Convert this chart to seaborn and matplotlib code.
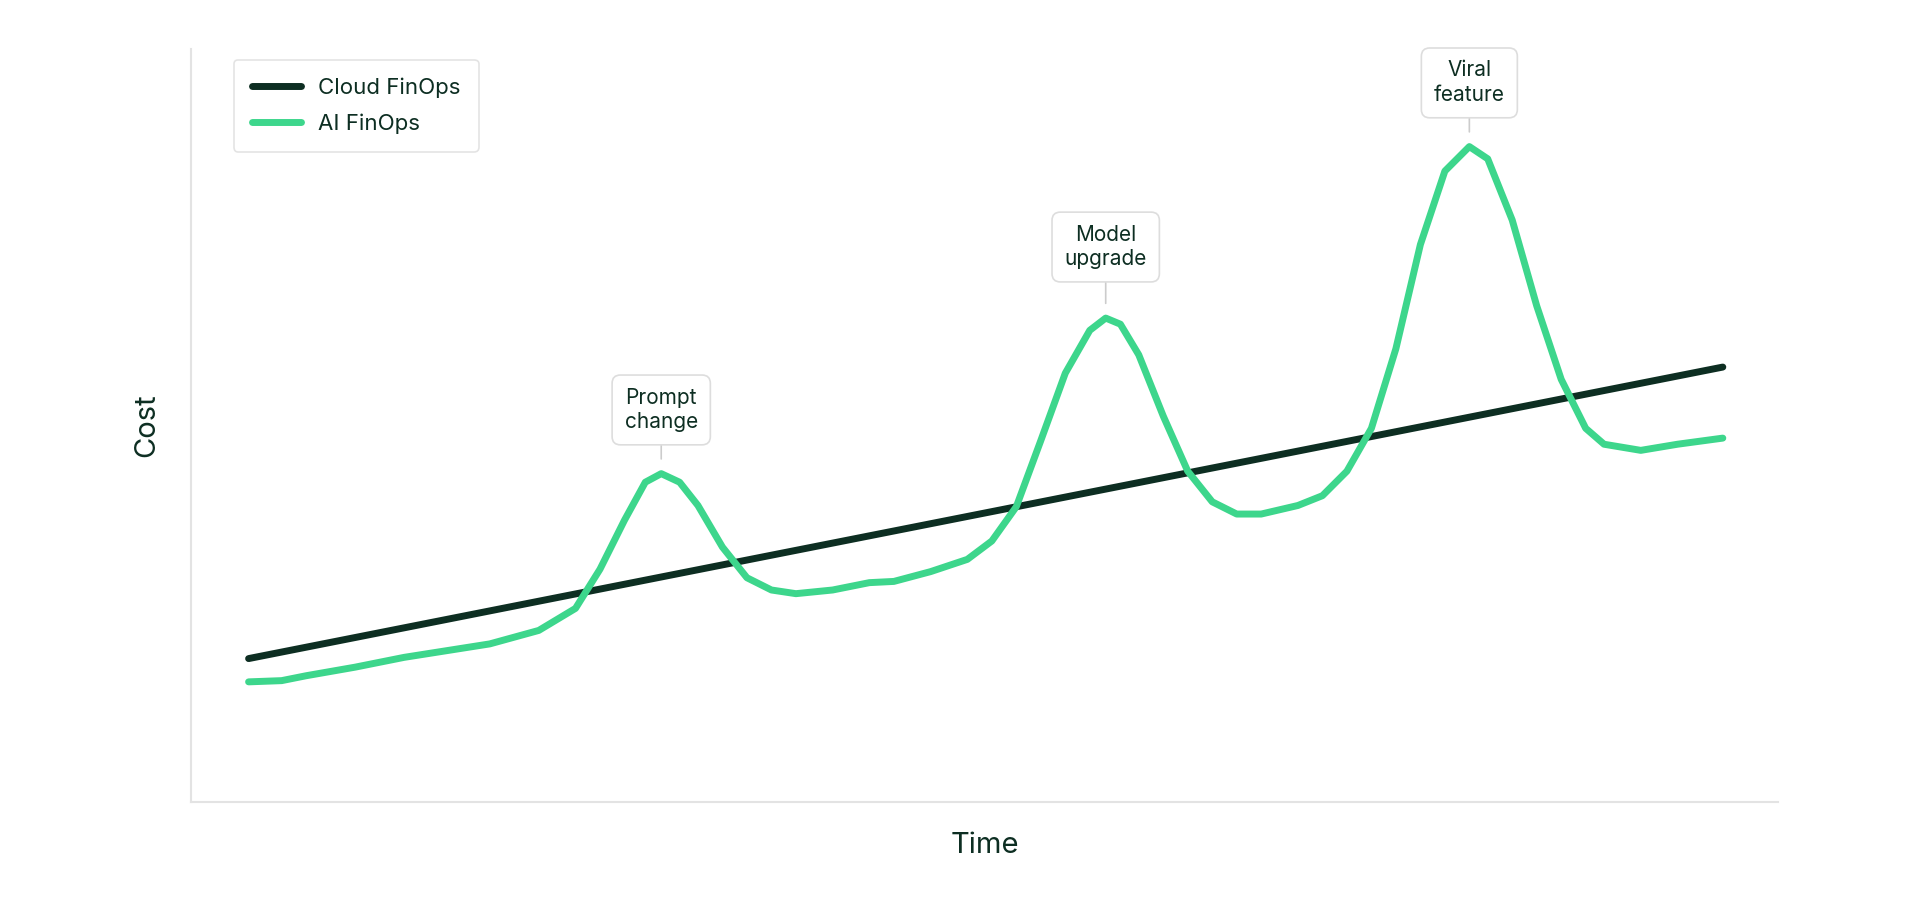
import matplotlib
matplotlib.use("Agg")
import matplotlib.pyplot as plt
import seaborn as sns

# Time / cost values (arbitrary units)
cloud_time = [0, 1204]
cloud_cost = [117, 355]

ai_time = [0, 27, 47, 87, 127, 197, 237, 267, 287, 307, 324, 337, 352, 367, 387, 407,
           427, 447, 477, 507, 527, 557, 587, 607, 627, 647, 667, 687, 700, 712, 727,
           747, 767, 787, 807, 827, 857, 877, 897, 917, 937, 957, 977, 997, 1012, 1032,
           1052, 1072, 1092, 1107, 1137, 1167, 1204]
ai_cost = [98, 99, 103, 110, 118, 129, 140, 158, 190, 230, 261, 268, 261, 242, 208, 183,
           173, 170, 173, 179, 180, 188, 198, 213, 241, 295, 350, 385, 395, 390, 365,
           315, 270, 245, 235, 235, 242, 250, 270, 305, 370, 455, 515, 535, 525, 475,
           405, 345, 305, 292, 287, 292, 297]

events = ["Prompt\nchange", "Model\nupgrade", "Viral\nfeature"]
event_time = [337, 700, 997]
event_peak = [268, 395, 535]
event_label_y = [320, 453, 587]

DARK = "#0d2e22"
GREEN = "#3dd68c"

sns.set_theme(style="white")
plt.rcParams["font.family"] = ["Inter", "DejaVu Sans"]

fig = plt.figure(figsize=(19.2, 9), dpi=100)
ax = fig.add_axes([0.0995, 0.109, 0.8265, 0.837])

sns.lineplot(x=cloud_time, y=cloud_cost, ax=ax, color=DARK, linewidth=5,
             label="Cloud FinOps", solid_capstyle="round")
sns.lineplot(x=ai_time, y=ai_cost, ax=ax, color=GREEN, linewidth=5,
             label="AI FinOps", solid_capstyle="round", solid_joinstyle="round")

for txt, t, pk, ly in zip(events, event_time, event_peak, event_label_y):
    ax.annotate(txt, xy=(t, pk + 12), xytext=(t, ly), ha="center", va="center",
                fontsize=15, color=DARK, linespacing=1.3,
                bbox=dict(boxstyle="round,pad=0.6,rounding_size=0.4",
                          fc="white", ec="#dddddd", lw=1.2),
                arrowprops=dict(arrowstyle="-", color="#cccccc", lw=1.2,
                                shrinkA=0, shrinkB=0))

ax.set_xlim(-47, 1249)
ax.set_ylim(0, 615)
ax.set_xticks([])
ax.set_yticks([])
ax.set_xlabel("Time", fontsize=21, color=DARK, labelpad=22)
ax.set_ylabel("Cost", fontsize=21, color=DARK, labelpad=22)
for s in ["top", "right"]:
    ax.spines[s].set_visible(False)
for s in ["left", "bottom"]:
    ax.spines[s].set_color("#e3e3e3")
    ax.spines[s].set_linewidth(1.5)

leg = ax.legend(loc="upper left", fontsize=16, frameon=True, borderpad=0.8,
                handlelength=2.2, labelspacing=0.7, bbox_to_anchor=(0.02, 1.0))
leg.get_frame().set_edgecolor("#dddddd")
leg.get_frame().set_linewidth(1.2)
for t in leg.get_texts():
    t.set_color(DARK)

fig.savefig("out.png", dpi=100)
